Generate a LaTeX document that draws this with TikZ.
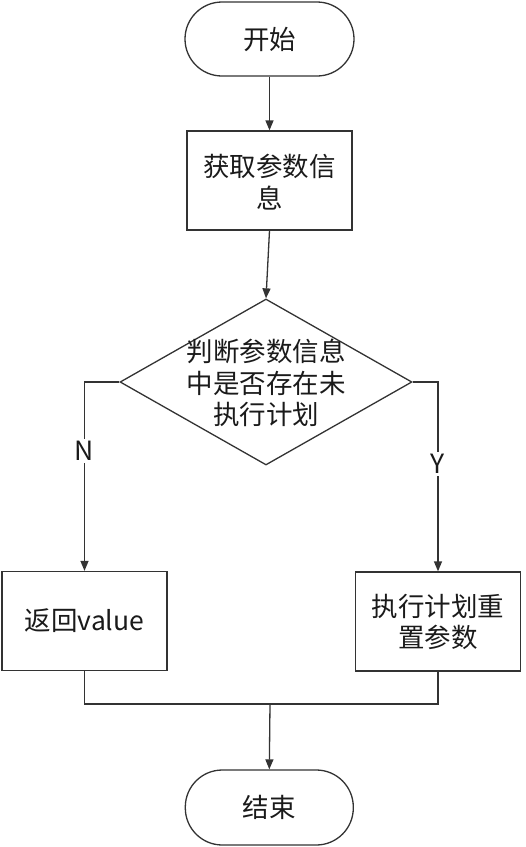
\documentclass[tikz,border=0pt]{standalone}
\usepackage{fontspec}
\setmainfont{Noto Sans CJK SC}
\usetikzlibrary{shapes.geometric,arrows.meta}
\definecolor{ln}{HTML}{333333}
\definecolor{tx}{HTML}{1A1A1A}
\tikzset{
  base/.style={draw=ln, line width=1.3pt, text=tx, font=\fontsize{26.5}{31.5}\selectfont, align=center, inner sep=0pt},
  term/.style={base, rectangle, rounded corners=37pt, minimum width=169pt, minimum height=74pt},
  proc/.style={base, rectangle, minimum width=165pt, minimum height=99pt},
  dec/.style={base, diamond, minimum width=292pt, minimum height=166pt},
  txt/.style={text=tx, font=\fontsize{26.5}{31.5}\selectfont, align=center, inner sep=0pt},
  lbl/.style={txt, fill=white, inner sep=2pt},
  arr/.style={draw=ln, line width=1.3pt, -{Triangle[length=10pt,width=8pt]}},
  ln/.style={draw=ln, line width=1.3pt}
}
\begin{document}
\begin{tikzpicture}[x=1pt,y=-1pt]
\useasboundingbox (0,0) rectangle (526,847);
\node[term] (s) at (269.5,39) {开始};
\node[proc] (b) at (269.5,180.5) {};
\node[txt] (bt) at (269.5,182) {获取参数信\\息};
\node[dec] (d) at (266,382) {};
\node[txt] (dt) at (266,383) {判断参数信息\\中是否存在未\\执行计划};
\node[proc] (l) at (84.5,621) {返回value};
\node[proc] (r) at (438,621.5) {};
\node[txt] (rt) at (438,622) {执行计划重\\置参数};
\node[term, minimum width=168pt, minimum height=75pt] (e) at (269.3,807.5) {结束};
\coordinate (m) at (270,704);
\draw[arr] (s) -- (b);
\draw[arr] (b.south) -- (d.north);
\draw[arr] (d.west) -| (l.north);
\draw[arr] (d.east) -| (r.north);
\draw[ln] (l.south) |- (m) -| (r.south);
\draw[arr] (m) -- (e.north);
\node[lbl] (n) at (84.5,451) {N};
\node[lbl] (y) at (438,464) {Y};
\end{tikzpicture}
\end{document}
